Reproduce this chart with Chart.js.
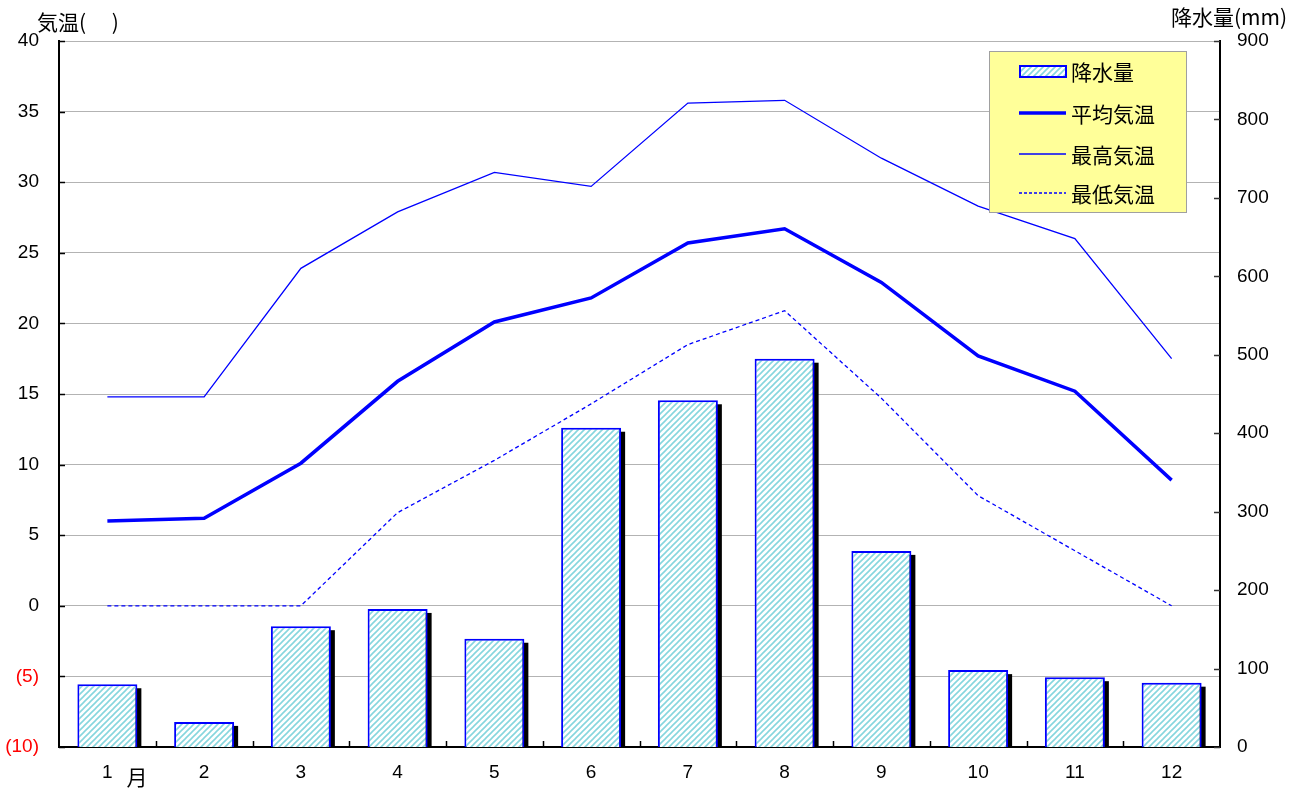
<!DOCTYPE html>
<html>
<head>
<meta charset="utf-8">
<script src="https://cdn.jsdelivr.net/npm/chart.js@4.4.1/dist/chart.umd.min.js"></script>
<style>
  body { margin: 0; background: #fff; }
  #wrap { width: 1298px; height: 792px; }
</style>
</head>
<body>
<div id="wrap"><canvas id="c" width="1298" height="792"></canvas></div>
<script>
// month labels
var months = ['1', '2', '3', '4', '5', '6', '7', '8', '9', '10', '11', '12'];
// precipitation (mm)
var rain = [80, 32, 154, 176, 138, 407, 442, 495, 250, 98, 89, 82];
// temperatures (deg C)
var tempAvg = [6.0, 6.2, 10.1, 15.9, 20.1, 21.8, 25.7, 26.7, 22.9, 17.7, 15.2, 8.9];
var tempMax = [14.8, 14.8, 23.9, 27.9, 30.7, 29.7, 35.6, 35.8, 31.7, 28.3, 26.0, 17.5];
var tempMin = [0.0, 0.0, 0.0, 6.6, 10.3, 14.3, 18.5, 20.9, 14.7, 7.8, 3.9, 0.0];

var NUM_FONT = 'Liberation Sans, Arial, sans-serif';
var JP_FONT = '"Noto Sans CJK JP", sans-serif';
var BLUE = '#0000ff';

var makeHatch = function () {
  var c = document.createElement('canvas');
  c.width = 6;
  c.height = 6;
  var g = c.getContext('2d');
  g.fillStyle = '#ffffff';
  g.fillRect(0, 0, 6, 6);
  g.strokeStyle = '#86d6de';
  g.lineWidth = 1.6;
  g.beginPath();
  g.moveTo(-1, 7); g.lineTo(7, -1);
  g.moveTo(-1, 1); g.lineTo(1, -1);
  g.moveTo(5, 7); g.lineTo(7, 5);
  g.stroke();
  return g.createPattern(c, 'repeat');
};
var hatch = makeHatch();

// black drop shadow behind each bar
var barShadow = {
  id: 'barShadow',
  beforeDatasetsDraw: function (chart) {
    var ctx = chart.ctx,
        meta = chart.getDatasetMeta(0);
    ctx.save();
    ctx.fillStyle = '#000';
    meta.data.forEach(function (bar) {
      var p = bar.getProps(['x', 'y', 'base', 'width'], true);
      ctx.fillRect(p.x - p.width / 2 + 4, p.y + 4, p.width, p.base - p.y - 4);
    });
    ctx.restore();
  }
};

// inner tick marks, axis titles and the boxed legend
var decorations = {
  id: 'decorations',
  afterDraw: function (chart) {
    var ctx = chart.ctx,
        area = chart.chartArea,
        y = chart.scales.y,
        y1 = chart.scales.y1,
        x = chart.scales.x;
    ctx.save();
    ctx.lineWidth = 1.5;
    ctx.strokeStyle = '#000';
    y.ticks.forEach(function (t) {
      var py = Math.round(y.getPixelForValue(t.value)) + 0.5;
      ctx.beginPath();
      ctx.moveTo(area.left, py);
      ctx.lineTo(area.left + 6, py);
      ctx.stroke();
    });
    ctx.strokeStyle = '#333';
    y1.ticks.forEach(function (t) {
      var py = Math.round(y1.getPixelForValue(t.value)) + 0.5;
      ctx.beginPath();
      ctx.moveTo(area.right - 6, py);
      ctx.lineTo(area.right, py);
      ctx.stroke();
    });
    ctx.strokeStyle = '#000';
    for (var i = 1; i < months.length; i++) {
      var px = Math.round((x.getPixelForValue(i - 1) + x.getPixelForValue(i)) / 2) + 0.5;
      ctx.beginPath();
      ctx.moveTo(px, area.bottom);
      ctx.lineTo(px, area.bottom - 6);
      ctx.stroke();
    }

    // axis titles
    ctx.fillStyle = '#000';
    ctx.textBaseline = 'middle';
    ctx.textAlign = 'left';
    ctx.font = '21px ' + JP_FONT;
    ctx.fillText('気温(\u3000 )', 37, 22);
    ctx.fillText('降水量(mm)', 1171, 17);
    ctx.textAlign = 'center';
    ctx.fillText('月', 137, 777);

    // legend
    var lx = 989, ly = 51, lw = 197, lh = 161;
    ctx.fillStyle = '#ffff99';
    ctx.fillRect(lx, ly, lw, lh);
    ctx.strokeStyle = '#a0a0a0';
    ctx.lineWidth = 1;
    ctx.strokeRect(lx + 0.5, ly + 0.5, lw, lh);

    var rows = [
      { label: '降水量', y: 71, kind: 'bar' },
      { label: '平均気温', y: 113, kind: 'line', w: 3.5, dash: [] },
      { label: '最高気温', y: 154, kind: 'line', w: 1.5, dash: [] },
      { label: '最低気温', y: 193, kind: 'line', w: 1.5, dash: [3, 2] }
    ];
    rows.forEach(function (r) {
      if (r.kind === 'bar') {
        ctx.fillStyle = hatch;
        ctx.fillRect(1020, r.y - 5, 46, 11);
        ctx.strokeStyle = BLUE;
        ctx.lineWidth = 2;
        ctx.strokeRect(1020, r.y - 5, 46, 11);
      } else {
        ctx.strokeStyle = BLUE;
        ctx.lineWidth = r.w;
        ctx.setLineDash(r.dash);
        ctx.beginPath();
        ctx.moveTo(1019, r.y);
        ctx.lineTo(1066, r.y);
        ctx.stroke();
        ctx.setLineDash([]);
      }
      ctx.fillStyle = '#000';
      ctx.textAlign = 'left';
      ctx.font = '21px ' + JP_FONT;
      ctx.fillText(r.label, 1071, r.y + 1);
    });
    ctx.restore();
  }
};

new Chart(document.getElementById('c'), {
  data: {
    labels: months,
    datasets: [
      {
        type: 'bar',
        label: '降水量',
        data: rain,
        yAxisID: 'y1',
        backgroundColor: hatch,
        borderColor: BLUE,
        borderWidth: 2,
        barPercentage: 1,
        categoryPercentage: 0.62,
        order: 10
      },
      {
        type: 'line',
        label: '平均気温',
        data: tempAvg,
        yAxisID: 'y',
        borderColor: BLUE,
        borderWidth: 3.5,
        pointRadius: 0,
        tension: 0,
        order: 0
      },
      {
        type: 'line',
        label: '最高気温',
        data: tempMax,
        yAxisID: 'y',
        borderColor: BLUE,
        borderWidth: 1.3,
        pointRadius: 0,
        tension: 0,
        order: 1
      },
      {
        type: 'line',
        label: '最低気温',
        data: tempMin,
        yAxisID: 'y',
        borderColor: BLUE,
        borderWidth: 1.3,
        borderDash: [4, 3],
        pointRadius: 0,
        tension: 0,
        order: 2
      }
    ]
  },
  options: {
    responsive: false,
    animation: false,
    layout: { padding: { top: 41, left: 0, right: 0, bottom: 0 } },
    plugins: {
      legend: { display: false },
      tooltip: { enabled: false }
    },
    scales: {
      x: {
        offset: true,
        grid: { display: false, drawTicks: false },
        border: { display: true, color: '#000', width: 2 },
        ticks: {
          color: '#000',
          padding: 14,
          maxRotation: 0,
          font: { family: NUM_FONT, size: 19 }
        },
        afterFit: function (s) { s.height = 45; }
      },
      y: {
        position: 'left',
        min: -10,
        max: 40,
        grid: { color: '#b3b3b3', lineWidth: 1, drawTicks: false },
        border: { display: true, color: '#000', width: 2 },
        ticks: {
          stepSize: 5,
          padding: 20,
          font: { family: NUM_FONT, size: 19 },
          color: function (c) { return c.tick && c.tick.value < 0 ? '#ff0000' : '#000'; },
          callback: function (v) { return v < 0 ? '(' + (-v) + ')' : String(v); }
        },
        afterFit: function (s) { s.width = 59; }
      },
      y1: {
        position: 'right',
        min: 0,
        max: 900,
        grid: { display: false, drawTicks: false },
        border: { display: true, color: '#000', width: 2 },
        ticks: {
          stepSize: 100,
          padding: 17,
          color: '#000',
          font: { family: NUM_FONT, size: 19 }
        },
        afterFit: function (s) { s.width = 78; }
      }
    }
  },
  plugins: [barShadow, decorations]
});
</script>
</body>
</html>
